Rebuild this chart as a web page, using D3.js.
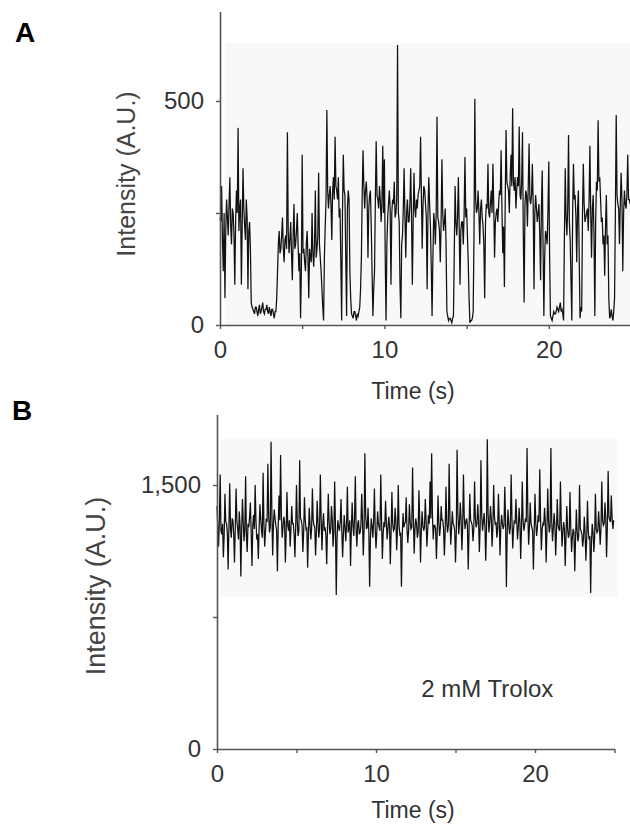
<!DOCTYPE html>
<html>
  <head>
    <title>Single-molecule intensity traces</title>
    <script src="https://d3js.org/d3.v7.min.js"></script>
    <style>
      body { margin: 0; background: #fff; }
      text { font-family: "Liberation Sans", Arial, Helvetica, sans-serif; }
    </style>
  </head>
  <body>
    <div id="chart"></div>
    <script>
      // frame interval of both traces (s)
      var frameInterval = 0.05;

      // panel A: intensity (A.U.), one value per frame, one row per second
      var intensityA = [
        240,230, 310,190, 120,250, 60,210, 280,240, 200,270, 330,220, 180,260, 250,200, 90,230,
        300,250, 440,210, 260,280, 90,220, 350,260, 220,190, 280,240, 80,210, 230,170, 50,40,
        35,30, 25,40, 40,30, 20,35, 45,25, 30,40, 50,30, 25,35, 35,45, 30,25,
        40,30, 20,35, 35,25, 15,30, 30,60, 120,180, 210,160, 170,200, 240,170, 140,190,
        200,170, 430,210, 160,190, 230,160, 100,200, 270,170, 180,210, 250,180, 120,160, 15,120,
        380,160, 170,140, 120,180, 210,150, 60,170, 150,140, 250,160, 130,180, 300,150, 170,200,
        340,180, 150,120, 80,40, 10,150, 220,280, 480,300, 260,290, 310,270, 190,300, 330,280,
        420,310, 300,280, 330,240, 260,140, 10,250, 380,300, 290,150, 20,260, 300,280, 120,60,
        25,20, 15,30, 30,20, 10,25, 20,30, 40,80, 150,290, 390,310, 260,300, 320,280,
        150,260, 290,300, 220,120, 20,80, 120,280, 410,290, 280,260, 310,280, 230,270, 400,250,
        370,150, 10,180, 240,270, 300,260, 90,250, 280,270, 320,240, 250,280, 625,250, 230,90,
        15,180, 200,260, 350,240, 150,250, 280,230, 230,270, 350,240, 90,230, 340,260, 240,280,
        260,290, 300,310, 420,290, 170,270, 310,300, 270,240, 80,250, 330,270, 220,130, 20,150,
        250,230, 180,250, 465,240, 230,210, 140,230, 370,250, 210,230, 260,180, 30,20, 10,15,
        15,10, 5,15, 20,160, 310,230, 200,240, 330,220, 90,210, 230,230, 180,250, 375,240,
        260,200, 140,60, 5,10, 10,15, 30,200, 505,280, 250,260, 300,250, 180,260, 280,240,
        220,180, 60,230, 270,260, 360,250, 240,270, 300,250, 360,270, 150,230, 250,260, 230,270,
        300,290, 390,260, 160,220, 85,280, 435,320, 310,300, 250,330, 380,310, 484,320, 300,330,
        260,300, 330,310, 443,290, 280,320, 430,200, 50,270, 300,290, 220,310, 405,280, 270,290,
        360,270, 80,250, 290,260, 230,250, 270,200, 100,260, 345,180, 20,150, 210,200, 180,260,
        365,150, 20,15, 10,20, 30,25, 25,30, 40,35, 30,40, 50,30, 35,25, 10,200,
        350,240, 200,260, 424,230, 190,100, 10,250, 360,280, 290,240, 140,260, 300,150, 15,40,
        30,250, 360,270, 230,240, 250,260, 210,280, 400,250, 150,260, 290,200, 20,230, 320,300,
        457,320, 330,280, 230,240, 180,200, 110,220, 290,180, 200,60, 15,20, 35,20, 10,30,
        60,250, 469,290, 270,260, 180,270, 340,280, 120,250, 300,270, 260,290, 380,280, 280,270
      ];

      // panel B: intensity (A.U.) with 2 mM Trolox
      var intensityB = [
        1380,1260, 1150,1300, 1560,1240, 1220,1280, 1090,1210, 1450,1290, 1280,1230, 1020,1270, 1510,1250, 1200,1310,
        1300,1220, 1060,1260, 1480,1300, 1250,1190, 1350,1270, 980,1240, 1420,1290, 1180,1250, 1550,1210, 1120,1280,
        1260,1320, 1400,1230, 1040,1270, 1330,1250, 1500,1300, 1190,1220, 1080,1260, 1390,1310, 1240,1200, 1570,1280,
        1150,1240, 1310,1290, 1620,1330, 1230,1260, 1746,1350, 1100,1280, 1360,1310, 1270,1240, 1010,1270, 1440,1300,
        1670,1320, 1200,1260, 1320,1290, 1060,1230, 1460,1270, 1240,1300, 1150,1250, 1380,1280, 1280,1220, 1090,1260,
        1500,1290, 1210,1240, 1640,1310, 1300,1270, 1120,1230, 1430,1300, 1250,1260, 1030,1220, 1370,1280, 1190,1250,
        1480,1300, 1270,1260, 1100,1230, 1410,1290, 1200,1250, 1560,1320, 1130,1270, 1340,1240, 1260,1210, 1050,1260,
        1450,1290, 1220,1250, 1380,1300, 1150,1230, 1520,1270, 875,1200, 1300,1260, 1240,1290, 1420,1240, 1090,1220,
        1330,1260, 1180,1280, 1490,1230, 1260,1300, 1040,1250, 1400,1270, 1210,1310, 1550,1240, 1150,1280, 1300,1220,
        1230,1270, 1450,1300, 1100,1250, 1680,1330, 1250,1260, 1370,1230, 922,1200, 1310,1270, 1200,1290, 1480,1250,
        1140,1230, 1350,1280, 1260,1240, 1560,1300, 1080,1220, 1290,1260, 1410,1290, 1190,1250, 1320,1270, 1050,1230,
        1460,1280, 1240,1250, 1370,1300, 1130,1240, 1500,1270, 1220,1230, 922,1210, 1340,1260, 1280,1290, 1430,1250,
        1170,1240, 1390,1290, 1250,1260, 1600,1320, 1110,1250, 1310,1280, 1200,1230, 1470,1300, 1060,1240, 1350,1270,
        1240,1260, 1420,1300, 1150,1240, 1330,1280, 1520,1310, 1680,1330, 1190,1270, 1270,1250, 1080,1230, 1440,1290,
        1210,1260, 1380,1300, 1300,1250, 1100,1230, 1490,1290, 1230,1270, 1620,1320, 1160,1250, 1350,1280, 1270,1240,
        1060,1230, 1700,1340, 1220,1280, 1400,1310, 1130,1260, 1560,1320, 1250,1290, 1310,1270, 1020,1240, 1450,1300,
        1290,1270, 1180,1250, 1520,1310, 1260,1280, 1390,1300, 1120,1260, 1640,1330, 1240,1290, 1340,1270, 1070,1250,
        1760,1340, 1230,1290, 1380,1310, 1150,1260, 1500,1320, 1280,1290, 1200,1250, 1450,1300, 1100,1260, 1330,1280,
        1250,1270, 1490,1300, 920,1220, 1360,1280, 1220,1260, 1560,1310, 1140,1250, 1300,1280, 1420,1300, 1190,1260,
        1370,1290, 1080,1250, 1520,1300, 1240,1270, 1310,1290, 1710,1340, 1160,1260, 1400,1280, 1260,1240, 1020,1230,
        1450,1280, 1210,1260, 1330,1290, 1590,1310, 1130,1250, 1280,1270, 1370,1290, 1060,1240, 1480,1300, 1230,1260,
        1710,1300, 1180,1250, 1340,1280, 1100,1230, 1420,1270, 1250,1240, 1520,1290, 1150,1230, 1290,1250, 1040,1210,
        1380,1250, 1200,1220, 1460,1260, 1120,1200, 1250,1230, 1010,1190, 1360,1240, 1180,1210, 1500,1250, 1240,1220,
        1150,1200, 1320,1230, 1070,1190, 1410,1240, 1190,1210, 886,1180, 1280,1230, 1120,1200, 1450,1250, 1230,1240,
        1350,1270, 1160,1250, 1520,1300, 1270,1280, 1400,1310, 1090,1260, 1580,1320, 1300,1290, 1440,1310, 1250,1300
      ];

      // tick values and labels
      var timeTicks = [0, 5, 10, 15, 20, 25];
      var timeLabels = [0, 10, 20];
      var ticksA = [0, 250, 500];
      var labelsA = [0, 500];
      var ticksB = [0, 750, 1500];
      var labelsB = [0, 1500];

      var svg = d3.select("#chart")
        .append("svg")
        .attr("width", 630)
        .attr("height", 839);

      function drawPanel(opt) {
        var x = d3.scaleLinear().domain([0, 25]).range([opt.left, opt.right]);
        var y = d3.scaleLinear().domain([0, opt.yMax]).range([opt.bottom, opt.top]);

        // faint grey plotting area
        svg.append("rect")
          .attr("x", x(opt.bg[0]))
          .attr("y", y(opt.bg[3]))
          .attr("width", x(opt.bg[1]) - x(opt.bg[0]))
          .attr("height", y(opt.bg[2]) - y(opt.bg[3]))
          .attr("fill", "#f8f8f8");

        var line = d3.line()
          .x(function(d, i) { return x(i * frameInterval); })
          .y(function(d) { return y(d); });

        svg.append("path")
          .datum(opt.values)
          .attr("d", line)
          .attr("fill", "none")
          .attr("stroke", "#111")
          .attr("stroke-width", 1.25);

        var xAxis = svg.append("g")
          .attr("transform", "translate(0," + opt.bottom + ")")
          .call(d3.axisBottom(x)
            .tickValues(timeTicks)
            .tickSize(4)
            .tickSizeOuter(0)
            .tickPadding(12)
            .tickFormat(function(d) { return timeLabels.indexOf(d) >= 0 ? d : ""; }));

        var yAxis = svg.append("g")
          .attr("transform", "translate(" + opt.left + ",0)")
          .call(d3.axisLeft(y)
            .tickValues(opt.yTicks)
            .tickSize(4)
            .tickSizeOuter(0)
            .tickPadding(12)
            .tickFormat(function(d) { return opt.yLabels.indexOf(d) >= 0 ? d3.format(",")(d) : ""; }));

        [xAxis, yAxis].forEach(function(a) {
          a.select(".domain").attr("stroke", "#555").attr("stroke-width", 1.6);
          a.selectAll(".tick line").attr("stroke", "#555").attr("stroke-width", 1.4);
          a.selectAll(".tick text")
            .attr("font-size", "24px")
            .attr("font-family", "Liberation Sans, Arial, sans-serif")
            .attr("fill", "#333");
        });

        svg.append("text")
          .text("Time (s)")
          .attr("x", opt.xTitle[0])
          .attr("y", opt.xTitle[1])
          .attr("text-anchor", "middle")
          .attr("font-size", "23px")
          .attr("fill", "#333");

        svg.append("text")
          .text("Intensity (A.U.)")
          .attr("transform", "translate(" + opt.yTitle[0] + "," + opt.yTitle[1] + ") rotate(-90)")
          .attr("text-anchor", "middle")
          .attr("dy", "0.35em")
          .attr("font-size", opt.yTitleSize)
          .attr("fill", "#444");

        svg.append("text")
          .text(opt.letter)
          .attr("x", opt.letterPos[0])
          .attr("y", opt.letterPos[1])
          .attr("font-size", "28px")
          .attr("font-weight", "bold")
          .attr("fill", "#000");

        return { x: x, y: y };
      }

      drawPanel({
        values: intensityA,
        left: 220, right: 631, top: 11.4, bottom: 325,
        yMax: 700, yTicks: ticksA, yLabels: labelsA,
        bg: [0.3, 25, 0, 630],
        xTitle: [413, 399], yTitle: [126, 174], yTitleSize: "25px",
        letter: "A", letterPos: [15, 42]
      });

      var b = drawPanel({
        values: intensityB,
        left: 217, right: 614.5, top: 414.6, bottom: 749,
        yMax: 1900, yTicks: ticksB, yLabels: labelsB,
        bg: [0.2, 25.2, 863, 1760],
        xTitle: [413, 818], yTitle: [96, 586], yTitleSize: "27px",
        letter: "B", letterPos: [12, 420]
      });

      svg.append("text")
        .text("2 mM Trolox")
        .attr("x", b.x(17))
        .attr("y", 697)
        .attr("text-anchor", "middle")
        .attr("font-size", "24px")
        .attr("fill", "#333");
    </script>
  </body>
</html>
